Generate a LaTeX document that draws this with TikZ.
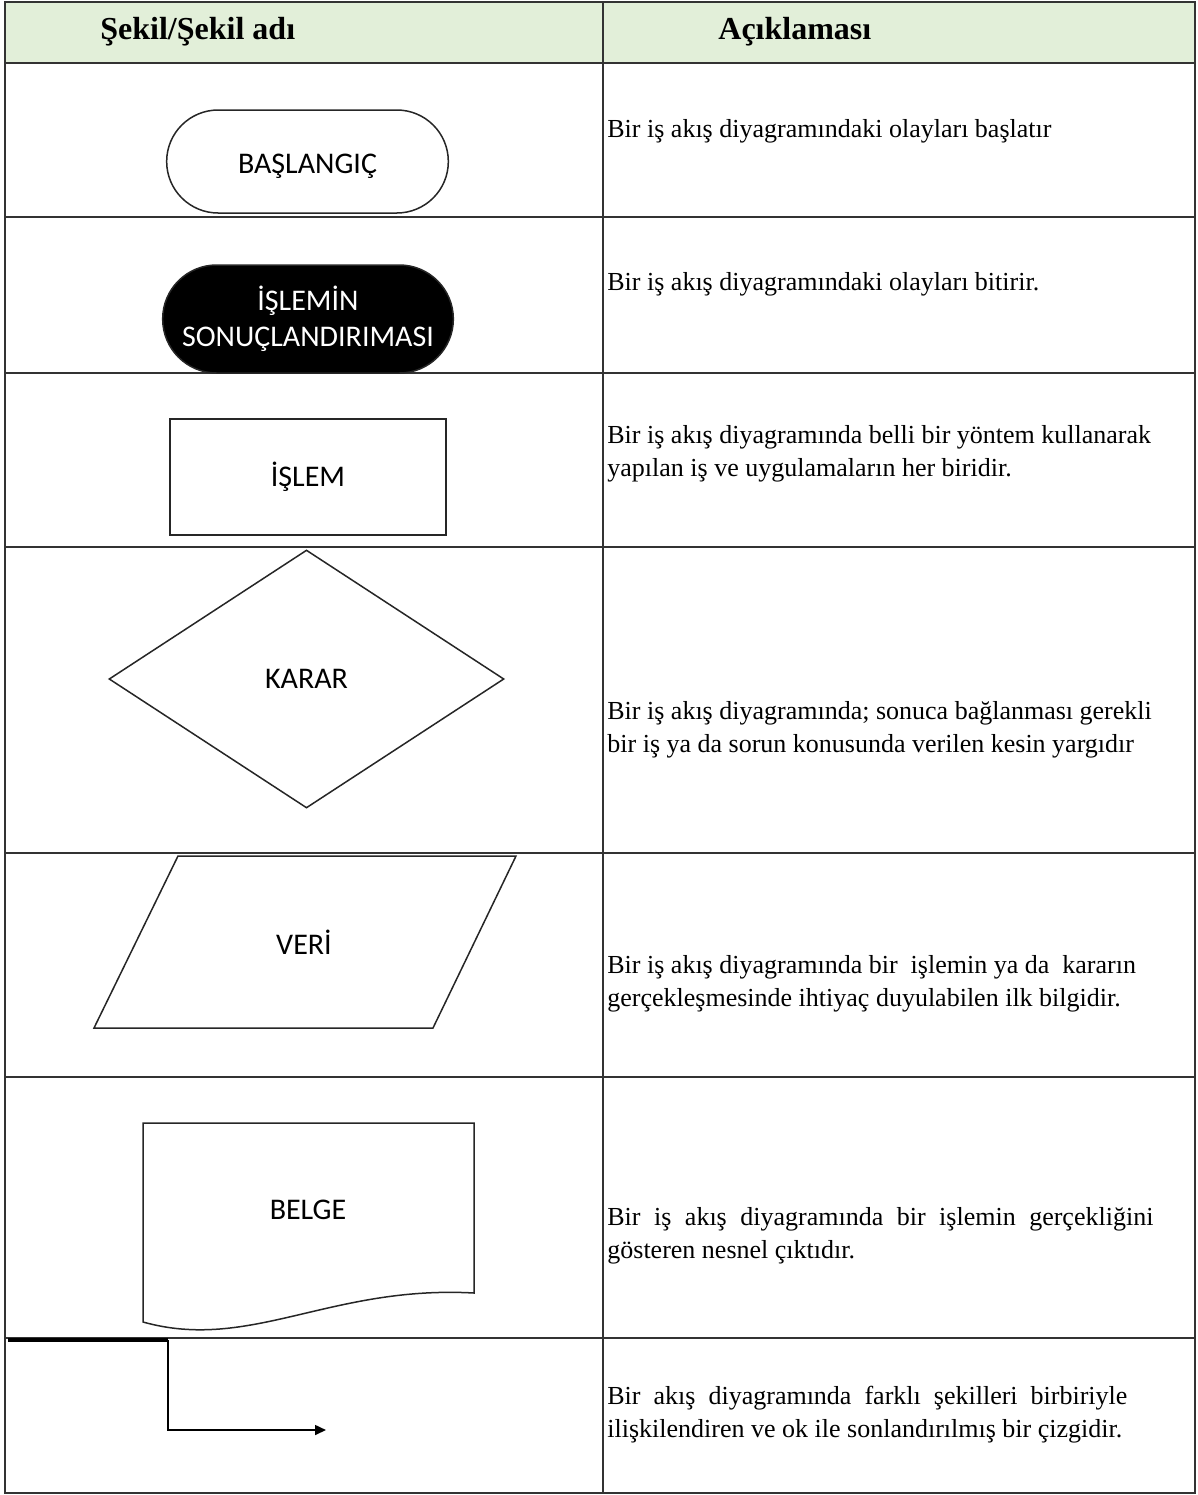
\documentclass[tikz,border=0pt]{standalone}
\usepackage{fontspec}
\setmainfont{Liberation Serif}
\newfontfamily\shapefont{Carlito}
\usetikzlibrary{positioning,shapes.misc,shapes.geometric,arrows.meta}
\definecolor{headgreen}{HTML}{E2EFD9}

\begin{document}
\begin{tikzpicture}[x=0.5pt,y=-0.5pt,
  grid/.style={draw=black!80,line width=0.8pt},
  shp/.style={draw=black!85,line width=0.75pt,fill=white,align=center,
    font=\shapefont\fontsize{15}{18}\selectfont},
  desc/.style={anchor=base west,align=left,inner sep=0pt,
    font=\fontsize{13}{16.5}\selectfont},
  head/.style={anchor=base west,inner sep=0pt,font=\bfseries\fontsize{16}{19}\selectfont}]
\useasboundingbox (0,0) rectangle (1198,1495);
% table
\fill[headgreen] (5,2) rectangle (1195,63);
\draw[grid] (5,2) rectangle (1195,1493);
\draw[grid] (603,2) -- (603,1493);
\foreach \y in {63,217,373,547,853,1077,1338}
  \draw[grid] (5,\y) -- (1195,\y);
\node[head] (hsekil) at (100,39) {Şekil/Şekil adı};
\node[head] (hacik) at (718,39) {Açıklaması};

% shapes
\node[shp,rounded rectangle,minimum width=147.5pt,minimum height=51.5pt,
  text height=12pt,text depth=0pt] (basla) at (307.5,161.5) {BAŞLANGIÇ};
\node[shp,rounded rectangle,fill=black,text=white,minimum width=152pt,minimum height=54pt] (bitir) at (308,319) {İŞLEMİN\\SONUÇLANDIRIMASI};
\node[shp,rectangle,minimum width=138pt,minimum height=58pt] (islem) at (308,477) {İŞLEM};
\node[shp,diamond,inner sep=0pt,minimum width=197.5pt,minimum height=129pt] (karar) at (306.5,679) {KARAR};
\draw[shp] (178,856) -- (516,856) -- (433,1028) -- (94,1028) -- cycle;
\node[shp,draw=none,fill=none] (veri) at (304,942) {VERİ};
\draw[shp] (143,1123) -- (474,1123) -- (474,1293) .. controls (330,1285) and (250,1352) .. (143,1322) -- cycle;
\node[shp,draw=none,fill=none] (belge) at (308,1210) {BELGE};

% connector
\coordinate (okA) at (8,1340);
\coordinate (okB) at (168,1340);
\coordinate (okC) at (326,1430);
\draw[line width=2pt] (okA) -- (okB);
\draw[line width=0.8pt,-{Triangle[length=5.5pt,width=5pt]}] (okB) |- (okC);

% descriptions (anchor = baseline of last line)
\node[desc] (d1) at (607,137) {Bir iş akış diyagramındaki olayları başlatır};
\node[desc] (d2) at (607,290) {Bir iş akış diyagramındaki olayları bitirir.};
\node[desc] (d3) at (607,476) {Bir iş akış diyagramında belli bir yöntem kullanarak\\yapılan iş ve uygulamaların her biridir.};
\node[desc] (d4) at (607,752) {Bir iş akış diyagramında; sonuca bağlanması gerekli\\bir iş ya da sorun konusunda verilen kesin yargıdır};
\node[desc] (d5) at (607,1006) {Bir iş akış diyagramında bir\ \ işlemin ya da\ \ kararın\\gerçekleşmesinde ihtiyaç duyulabilen ilk bilgidir.};
\node[desc] (d6) at (607,1258) {\makebox[273pt][s]{Bir iş akış diyagramında bir işlemin gerçekliğini}\\gösteren nesnel çıktıdır.};
\node[desc] (d7) at (607,1437) {\makebox[260pt][s]{Bir akış diyagramında farklı şekilleri birbiriyle}\\ilişkilendiren ve ok ile sonlandırılmış bir çizgidir.};
\end{tikzpicture}
\end{document}
